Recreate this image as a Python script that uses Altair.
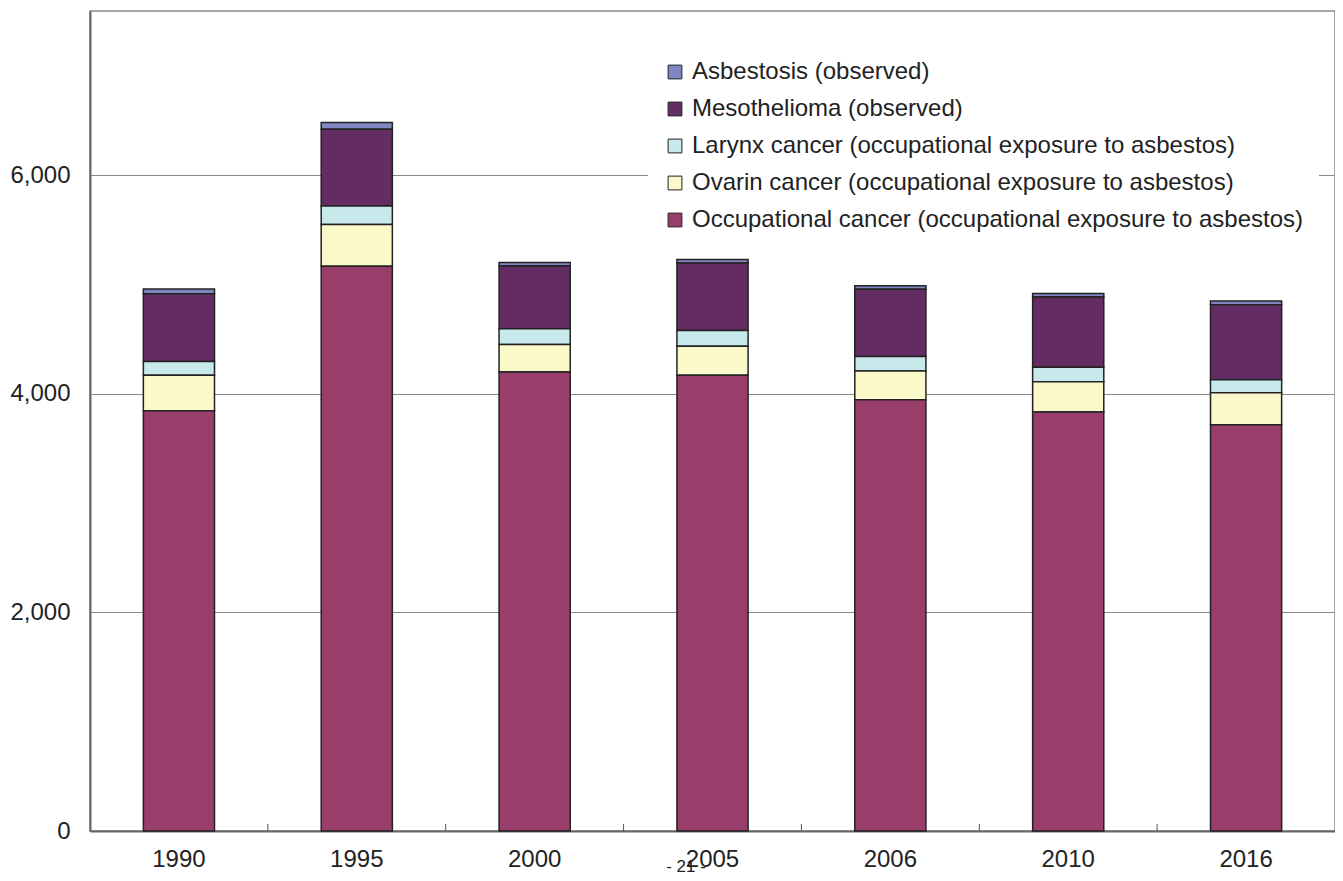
import altair as alt
import pandas as pd

years = ["1990", "1995", "2000", "2005", "2006", "2010", "2016"]
occupational = [3844, 5165, 4199, 4168, 3945, 3832, 3716]
ovarin = [324, 383, 251, 266, 263, 278, 293]
larynx = [126, 168, 144, 144, 131, 131, 119]
mesothelioma = [621, 703, 574, 618, 615, 643, 686]
asbestosis = [42, 61, 31, 30, 34, 33, 33]

series_names = [
    "Asbestosis (observed)",
    "Mesothelioma (observed)",
    "Larynx cancer (occupational exposure to asbestos)",
    "Ovarin cancer (occupational exposure to asbestos)",
    "Occupational cancer (occupational exposure to asbestos)",
]
series_values = [asbestosis, mesothelioma, larynx, ovarin, occupational]
series_colors = ["#7F86C0", "#632D63", "#C8E9EC", "#FBF8C9", "#993D6B"]
y_ticks = [0, 2000, 4000, 6000]

rows = []
for name, vals in zip(series_names, series_values):
    stack_rank = 4 - series_names.index(name)
    for yr, v in zip(years, vals):
        rows.append({"year": yr, "series": name, "value": v, "rank": stack_rank})
df = pd.DataFrame(rows)

font = "Liberation Sans"
W, H = 1245, 820

x_scale = alt.Scale(paddingInner=0.6, paddingOuter=0.3)
y_scale = alt.Scale(domain=[0, 7500], nice=False)

x_enc = alt.X("year:O", sort=years, scale=x_scale, title=None,
              axis=alt.Axis(labelAngle=0, ticks=False, labelPadding=16,
                            domainColor="#666666", domainWidth=2,
                            labelFontSize=24, labelFont=font, labelColor="#222222"))

bars = alt.Chart(df).mark_bar(stroke="#222222", strokeWidth=1.5).encode(
    x=x_enc,
    y=alt.Y("value:Q", stack="zero", title=None, scale=y_scale,
            axis=alt.Axis(values=y_ticks, format=",.0f", ticks=False, labelPadding=20,
                          grid=True, gridColor="#8a8a8a", gridWidth=1.2,
                          domainColor="#666666", domainWidth=2,
                          labelFontSize=24, labelFont=font, labelColor="#222222")),
    color=alt.Color("series:N", title=None,
                    scale=alt.Scale(domain=series_names, range=series_colors),
                    legend=alt.Legend(orient="none", legendX=558, legendY=34,
                                      fillColor="white", padding=15,
                                      rowPadding=13, labelFontSize=24,
                                      labelFont=font, labelColor="#222222",
                                      labelOffset=5, symbolType="square",
                                      symbolSize=190, symbolStrokeColor="#222222",
                                      symbolStrokeWidth=1, symbolOpacity=1,
                                      labelLimit=800)),
    order=alt.Order("rank:Q", sort="ascending"),
)

# small inward ticks at the category boundaries
boundary_ticks = alt.Chart(pd.DataFrame({"year": years[:-1]})).mark_rule(
    color="#555555", strokeWidth=1, xOffset=W / len(years) / 2
).encode(x=alt.X("year:O", sort=years, scale=x_scale, title=None),
         y=alt.value(H - 7), y2=alt.value(H))

page_num = alt.Chart(pd.DataFrame({"t": ["- 21 -"]})).mark_text(
    fontSize=17, font=font, color="#222222", baseline="top", align="center"
).encode(text="t:N", x=alt.value(596), y=alt.value(848))

chart = alt.layer(bars, boundary_ticks, page_num).properties(
    width=W, height=H,
    autosize=alt.AutoSizeParams(type="none"),
    padding={"left": 82, "top": 3, "right": 0, "bottom": 42},
).configure_view(stroke="#8a8a8a", strokeWidth=1.5)

chart.save("out.html", embed_options={"renderer": "svg", "actions": False})
